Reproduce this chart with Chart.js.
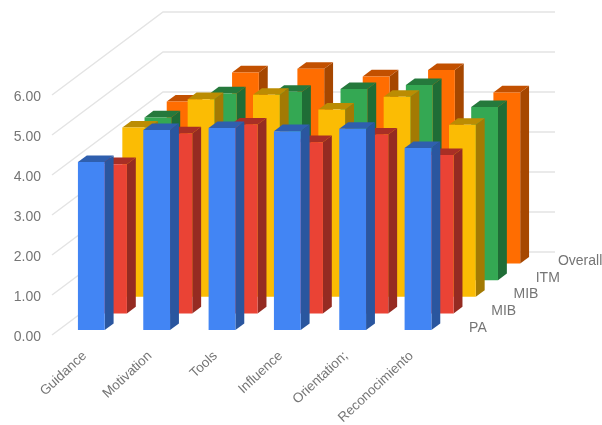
<!DOCTYPE html>
<html>
<head>
<meta charset="utf-8">
<script src="https://cdn.jsdelivr.net/npm/chart.js@4"></script>
<style>
  html, body { margin: 0; padding: 0; background: #fff; }
  canvas { display: block; }
</style>
</head>
<body>
<canvas id="myChart" width="602" height="425"></canvas>
<script>
// Chart data
const categories = ["Guidance", "Motivation", "Tools", "Influence", "Orientation;", "Reconocimiento"];
const seriesNames = ["PA", "MIB", "MIB", "ITM", "Overall"];
const paValues = [4.20, 5.00, 5.05, 4.97, 5.03, 4.55];
const mibValues = [3.73, 4.50, 4.72, 4.28, 4.47, 3.96];
const mib2Values = [4.23, 4.94, 5.05, 4.68, 5.00, 4.30];
const itmValues = [4.07, 4.67, 4.71, 4.78, 4.88, 4.33];
const overallValues = [4.05, 4.78, 4.87, 4.68, 4.84, 4.28];
const yTicks = [0, 1, 2, 3, 4, 5, 6];

// Face colours per series: front, side, top
const faces = [
    ["#4285f4", "#2a569f", "#2f5fae"],
    ["#ea4335", "#952b22", "#a82f25"],
    ["#fbbc04", "#a37a03", "#bb8c03"],
    ["#34a853", "#1f6d36", "#25793c"],
    ["#ff6d01", "#a64700", "#c25000"]
];

// One step back along the floor for each series
const stepX = 22.2;
const stepY = 16.6;
const rows = seriesNames.length;
const textColor = "#757575";
const font = { family: "'Liberation Sans', Arial, sans-serif", size: 14 };
const categoryFont = { family: font.family, size: 13.5 };

function polygon(ctx, color, points) {
    ctx.fillStyle = color;
    ctx.beginPath();
    points.forEach(function (p, i) {
        if (i === 0) ctx.moveTo(p[0], p[1]);
        else ctx.lineTo(p[0], p[1]);
    });
    ctx.closePath();
    ctx.fill();
}

// Walls, floor lines and the series names along the right edge
const wallPlugin = {
    id: "wall",
    beforeDatasetsDraw(chart) {
        const ctx = chart.ctx;
        const area = chart.chartArea;
        const backX = stepX * rows;
        const backY = stepY * rows;
        ctx.save();
        ctx.strokeStyle = "#e4e4e4";
        ctx.lineWidth = 1.5;
        yTicks.forEach(function (t) {
            const y = chart.scales.y.getPixelForValue(t);
            ctx.beginPath();
            ctx.moveTo(area.left, y);
            ctx.lineTo(area.left + backX, y - backY);
            ctx.lineTo(area.right + backX, y - backY);
            ctx.stroke();
        });
        ctx.fillStyle = textColor;
        ctx.font = font.size + "px " + font.family;
        ctx.textBaseline = "middle";
        seriesNames.forEach(function (name, k) {
            ctx.fillText(name, area.right + stepX * (k + 0.5) + 14, area.bottom - stepY * (k + 0.5) + 1);
        });
        ctx.restore();
    },
    // Each bar gets a front, a side and a top, moved back to its own row
    beforeDatasetDraw(chart, args) {
        const ctx = chart.ctx;
        const k = args.index;
        const colors = faces[k];
        const dx = stepX * (k + 0.3);
        const dy = stepY * (k + 0.3);
        const sideX = stepX * 0.4;
        const sideY = stepY * 0.4;
        args.meta.data.forEach(function (bar) {
            const left = bar.x - bar.width / 2 + dx;
            const right = bar.x + bar.width / 2 + dx;
            const top = bar.y - dy;
            const bottom = bar.base - dy;
            polygon(ctx, colors[1], [[right, top], [right + sideX, top - sideY], [right + sideX, bottom - sideY], [right, bottom]]);
            polygon(ctx, colors[2], [[left, top], [left + sideX, top - sideY], [right + sideX, top - sideY], [right, top]]);
            polygon(ctx, colors[0], [[left, top], [right, top], [right, bottom], [left, bottom]]);
        });
        return false;
    }
};

const allValues = [paValues, mibValues, mib2Values, itmValues, overallValues];

new Chart(document.getElementById("myChart").getContext("2d"), {
    type: "bar",
    data: {
        labels: categories,
        datasets: allValues.map(function (values, k) {
            return {
                label: seriesNames[k],
                data: values,
                grouped: false,
                barPercentage: 0.41,
                categoryPercentage: 1,
                backgroundColor: faces[k][0]
            };
        })
    },
    plugins: [wallPlugin],
    options: {
        responsive: false,
        animation: false,
        layout: { padding: { top: 95, right: 158, left: 0, bottom: 0 } },
        plugins: { legend: { display: false }, tooltip: { enabled: false } },
        scales: {
            x: {
                grid: { display: false },
                border: { display: false },
                afterFit(scale) { scale.height = 90; },
                ticks: {
                    color: textColor,
                    font: categoryFont,
                    autoSkip: false,
                    minRotation: 43,
                    maxRotation: 43,
                    padding: 5
                }
            },
            y: {
                min: 0,
                max: 6,
                grid: { display: false },
                border: { display: false },
                afterFit(scale) { scale.width = 52; },
                ticks: {
                    color: textColor,
                    font: font,
                    stepSize: 1,
                    padding: 3,
                    labelOffset: 2,
                    callback: function (v) { return v.toFixed(2); }
                }
            }
        }
    }
});
</script>
</body>
</html>
